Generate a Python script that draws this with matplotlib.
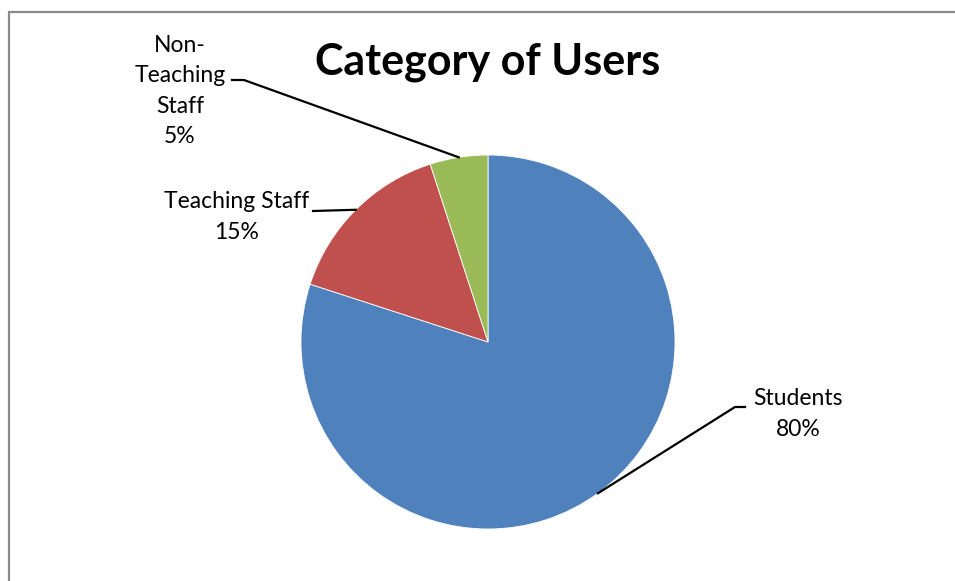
import numpy as np
import matplotlib.pyplot as plt
from matplotlib import font_manager
from matplotlib.patches import Rectangle

labels = ['Students', 'Teaching Staff', 'Non-\nTeaching\nStaff']
shares = [80, 15, 5]
colors = ['#4F81BD', '#C0504D', '#9BBB59']

names = {f.name for f in font_manager.fontManager.ttflist}
font = 'Liberation Sans Narrow' if 'Liberation Sans Narrow' in names else 'Lato'
plt.rcParams['font.family'] = [font, 'DejaVu Sans']

W, H = 955, 581
fig = plt.figure(figsize=(W / 100, H / 100), dpi=100)
fig.patches.append(Rectangle((9 / W, -0.1), 1.2, 1.1 - 12 / H, transform=fig.transFigure,
                             fill=False, edgecolor='#898989', linewidth=1.6))

cx, cy, r = 488, 342, 187
ax = fig.add_axes([(cx - r) / W, (H - cy - r) / H, 2 * r / W, 2 * r / H])
wedges, _ = ax.pie(shares, colors=colors, startangle=90, counterclock=False,
                   radius=1, wedgeprops=dict(edgecolor='white', linewidth=0.6))
ax.set_xlim(-1, 1)
ax.set_ylim(-1, 1)
ax.set_aspect('equal')
ax.axis('off')


def px(x, y):
    # pixel -> pie data coords
    return (x - cx) / r, (cy - y) / r


# label text positions (pixels) and leader-line elbows
label_pos = [(798, 414), (237, 217), (180, 91)]
elbows = [[(735, 407), (745, 407)], [(313, 211)], [(244, 80), (232, 80)]]

for w, lab, v, (tx, ty), elb in zip(wedges, labels, shares, label_pos, elbows):
    mid = np.deg2rad((w.theta1 + w.theta2) / 2)
    pts = [(np.cos(mid), np.sin(mid))] + [px(*p) for p in elb]
    xs, ys = zip(*pts)
    ax.plot(xs, ys, color='black', linewidth=1.6, clip_on=False)
    x, y = px(tx, ty)
    ax.text(x, y, f'{lab}\n{v}%', ha='center', va='center', fontsize=16.5,
            linespacing=1.55, clip_on=False)

fig.text(cx / W, 1 - 62 / H, 'Category of Users', ha='center', va='center',
         fontsize=31, fontweight='bold')

fig.savefig('out.png', dpi=100)
